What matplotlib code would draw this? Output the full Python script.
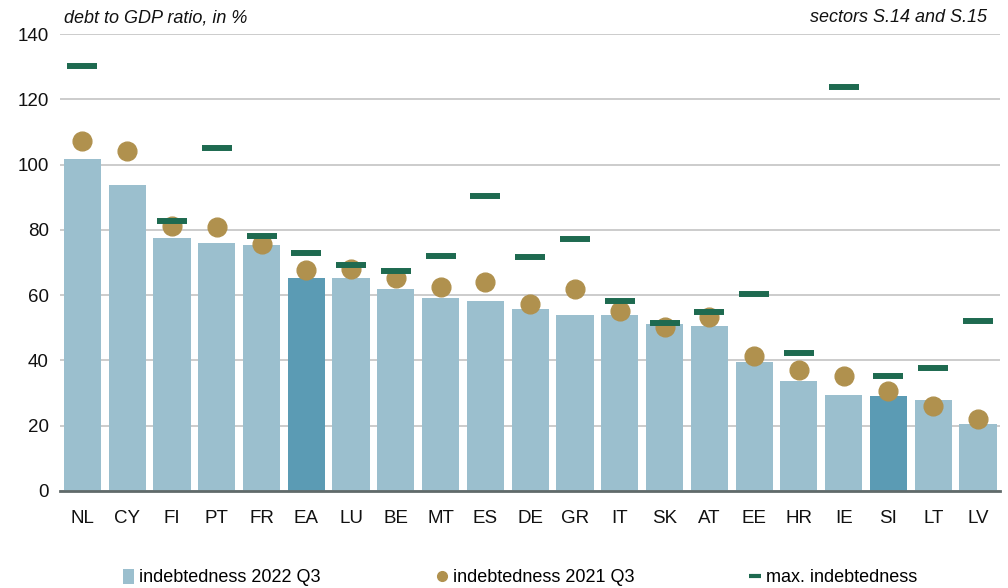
import matplotlib.pyplot as plt
import numpy as np
from matplotlib.lines import Line2D
from matplotlib.patches import Patch

plt.rcParams['font.family'] = ['Liberation Sans Narrow', 'Liberation Sans', 'DejaVu Sans']

countries = ["NL", "CY", "FI", "PT", "FR", "EA", "LU", "BE", "MT", "ES", "DE",
             "GR", "IT", "SK", "AT", "EE", "HR", "IE", "SI", "LT", "LV"]
debt_2022q3 = [101.6, 93.7, 77.5, 76.1, 75.4, 65.2, 65.2, 62.0, 59.2, 58.2, 55.9,
               54.0, 53.8, 51.1, 50.6, 39.5, 33.7, 29.5, 29.0, 27.9, 20.4]
debt_2021q3 = [107.2, 104.1, 81.2, 81.0, 75.7, 67.8, 67.9, 65.4, 62.5, 63.9, 57.4,
               62.0, 55.2, 50.1, 53.3, 41.3, 37.2, 35.3, 30.6, 25.9, 22.2]
debt_max = [130.3, np.nan, 82.7, 105.1, 78.1, 72.9, 69.2, 67.4, 72.0, 90.3, 71.7,
            77.2, 58.2, 51.5, 54.8, 60.3, 42.2, 123.8, 35.2, 37.6, 52.0]
highlight = ["EA", "SI"]

light = "#9bbfce"
dark = "#5b9bb4"
gold = "#b0914e"
green = "#1e6a50"

fig = plt.figure(figsize=(10.08, 5.88), dpi=100)
ax = fig.add_axes([0.0595, 0.165, 0.933, 0.777])

x = np.arange(len(countries))
colors = [dark if c in highlight else light for c in countries]
ax.bar(x, debt_2022q3, width=0.83, color=colors, zorder=2)
ax.plot(x, debt_2021q3, linestyle="none", marker="o", markersize=13.5,
        color=gold, zorder=3)
ax.plot(x, debt_max, linestyle="none", marker="_", markersize=21.5,
        markeredgewidth=4.3, color=green, zorder=4)

ax.set_xlim(-0.5, len(countries) - 0.5)
ax.set_ylim(0, 140)
ax.set_yticks(range(0, 141, 20))
ax.set_xticks(x)
ax.set_xticklabels(countries)
ax.tick_params(axis="both", length=0, labelsize=13.5, colors="#111111")
ax.tick_params(axis="x", pad=14)
ax.tick_params(axis="y", pad=8)
ax.yaxis.grid(True, color="#c8c8c8", linewidth=1.3, zorder=0)
ax.set_axisbelow(True)
for s in ["top", "right", "left"]:
    ax.spines[s].set_visible(False)
ax.spines["bottom"].set_color("#606a6a")
ax.spines["bottom"].set_linewidth(2)
ax.spines["bottom"].set_zorder(5)

fig.text(0.063, 0.955, "debt to GDP ratio, in %", style="italic", fontsize=13,
         ha="left", va="bottom", color="#111111")
fig.text(0.979, 0.955, "sectors S.14 and S.15", style="italic", fontsize=13,
         ha="right", va="bottom", color="#111111")

handles = [
    Patch(facecolor=light, label="indebtedness 2022 Q3"),
    Line2D([], [], linestyle="none", marker="o", markersize=7, color=gold,
           label="indebtedness 2021 Q3"),
    Line2D([], [], linestyle="none", marker="_", markersize=8,
           markeredgewidth=3, color=green, label="max. indebtedness"),
]
fig.legend(handles=handles, loc="lower left", bbox_to_anchor=(0.106, -0.025),
           ncol=3, frameon=False, fontsize=13, handlelength=0.6,
           handleheight=0.9, handletextpad=0.3, columnspacing=6.4)

fig.savefig("out.png", dpi=100)
